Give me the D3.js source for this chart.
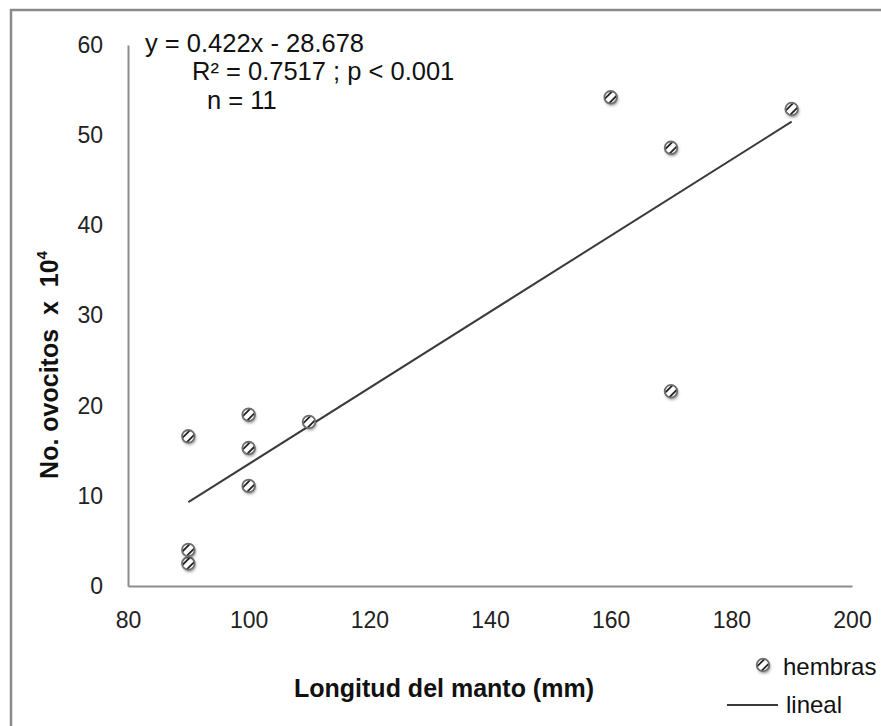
<!DOCTYPE html>
<html>
<head>
<meta charset="utf-8">
<script src="https://cdn.jsdelivr.net/npm/d3@7"></script>
<style>
  body { margin: 0; background: #fff; }
  svg { display: block; font-family: "Liberation Sans", Arial, sans-serif; }
</style>
</head>
<body>
<svg width="881" height="726"></svg>
<script>
// data
const longitud = [90, 90, 90, 100, 100, 100, 110, 160, 170, 170, 190];
const ovocitos = [2.5, 4, 16.6, 19, 15.3, 11.1, 18.2, 54.2, 48.6, 21.6, 52.9];
const pendiente = 0.422, intercepto = -28.678;
const xTicks = [80, 100, 120, 140, 160, 180, 200];
const yTicks = [0, 10, 20, 30, 40, 50, 60];
const anotacion = ["y = 0.422x - 28.678", "R² = 0.7517 ; p < 0.001", "n = 11"];
const leyenda = ["hembras", "lineal"];

const svg = d3.select("svg");

const x = d3.scaleLinear().domain([80, 200]).range([128, 852]);
const y = d3.scaleLinear().domain([0, 60]).range([586, 45]);

const defs = svg.append("defs");
defs.append("filter").attr("id", "sombra")
  .attr("x", "-50%").attr("y", "-50%").attr("width", "200%").attr("height", "200%")
  .append("feDropShadow")
  .attr("dx", 1).attr("dy", 2).attr("stdDeviation", 1.6)
  .attr("flood-color", "#000").attr("flood-opacity", 0.45);
defs.append("clipPath").attr("id", "dentro")
  .append("circle").attr("r", 6.3);

// outer frame (runs off the right and bottom edge)
svg.append("rect")
  .attr("x", 11).attr("y", 10).attr("width", 900).attr("height", 760)
  .attr("fill", "none").attr("stroke", "#8a8a8a").attr("stroke-width", 2.5);

// axes
const xAxis = svg.append("g")
  .attr("transform", `translate(0,${y(0)})`)
  .call(d3.axisBottom(x).tickValues(xTicks).tickSize(0).tickSizeOuter(0).tickPadding(26));
const yAxis = svg.append("g")
  .attr("transform", `translate(${x(80)},0)`)
  .call(d3.axisLeft(y).tickValues(yTicks).tickSize(0).tickSizeOuter(0).tickPadding(25));

[xAxis, yAxis].forEach(g => {
  g.select(".domain").attr("stroke", "#8c8c8c").attr("stroke-width", 2);
  g.selectAll("text")
    .attr("font-family", "Liberation Sans, Arial, sans-serif")
    .attr("font-size", 23).attr("fill", "#222");
});

// trend line
const xr = d3.extent(longitud);
svg.append("line")
  .attr("x1", x(xr[0])).attr("y1", y(pendiente * xr[0] + intercepto))
  .attr("x2", x(xr[1])).attr("y2", y(pendiente * xr[1] + intercepto))
  .attr("stroke", "#3a3a3a").attr("stroke-width", 2);

// marker drawing
function marcador(g) {
  g.append("circle").attr("r", 6.3).attr("fill", "#fff")
    .attr("filter", "url(#sombra)");
  const h = g.append("g").attr("clip-path", "url(#dentro)");
  [-2.2, 2.2].forEach(o => {
    h.append("line")
      .attr("x1", -8 + o).attr("y1", 8 + o).attr("x2", 8 + o).attr("y2", -8 + o)
      .attr("stroke", "#222").attr("stroke-width", 1.8);
  });
  g.append("circle").attr("r", 6.3).attr("fill", "none")
    .attr("stroke", "#6e6e6e").attr("stroke-width", 1.8);
}

svg.append("g")
  .selectAll("g")
  .data(longitud.map((d, i) => [d, ovocitos[i]]))
  .enter().append("g")
  .attr("transform", d => `translate(${x(d[0])},${y(d[1])})`)
  .each(function () { marcador(d3.select(this)); });

// equation text
const anotX = [145, 192, 207];
svg.append("g").selectAll("text")
  .data(anotacion)
  .enter().append("text")
  .attr("x", (d, i) => anotX[i])
  .attr("y", (d, i) => 43 + i * 28.5)
  .attr("dy", "0.35em")
  .attr("font-size", 25.5).attr("fill", "#111")
  .text(d => d);

// axis titles
svg.append("text")
  .attr("x", 444).attr("y", 688).attr("dy", "0.35em")
  .attr("text-anchor", "middle")
  .attr("font-size", 25).attr("font-weight", "bold").attr("fill", "#111")
  .text("Longitud  del manto (mm)");

const yt = svg.append("text")
  .attr("transform", "translate(49,365) rotate(-90)")
  .attr("dy", "0.35em")
  .attr("text-anchor", "middle")
  .attr("font-size", 25).attr("font-weight", "bold").attr("fill", "#111")
  .attr("xml:space", "preserve");
yt.append("tspan").text("No. ovocitos  x  10");
yt.append("tspan").attr("font-size", 15).attr("dy", "-0.7em").text("4");

// legend
const lg = svg.append("g");
marcador(lg.append("g").attr("transform", "translate(763,665)"));
lg.append("text").attr("x", 783).attr("y", 667).attr("dy", "0.35em")
  .attr("font-size", 24).attr("fill", "#111").text(leyenda[0]);
lg.append("line").attr("x1", 727).attr("x2", 778).attr("y1", 705).attr("y2", 705)
  .attr("stroke", "#3a3a3a").attr("stroke-width", 2);
lg.append("text").attr("x", 786).attr("y", 705).attr("dy", "0.35em")
  .attr("font-size", 24).attr("fill", "#111").text(leyenda[1]);
</script>
</body>
</html>
